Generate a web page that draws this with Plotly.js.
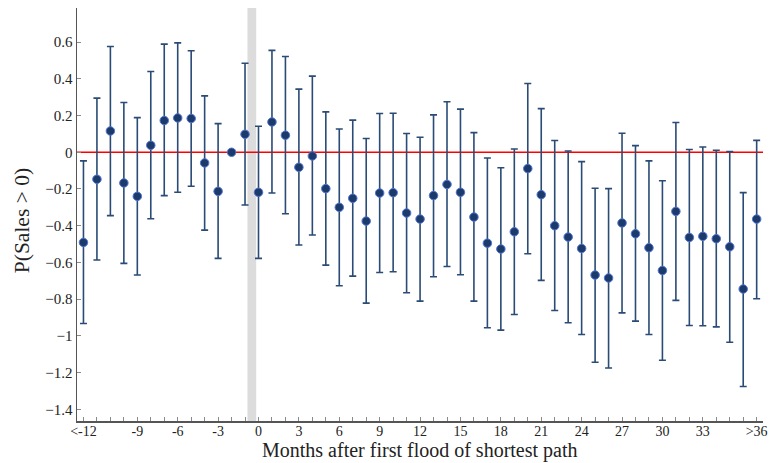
<!DOCTYPE html>
<html>
<head>
<meta charset="utf-8">
<script src="https://cdn.plot.ly/plotly-3.0.1.min.js"></script>
<style>
  html, body { margin: 0; padding: 0; background: #ffffff; }
  #chart { width: 771px; height: 463px; }
</style>
</head>
<body>
<div id="chart"></div>
<script>
// Event-time bins: "<-12" is pooled at -13, ">36" is pooled at 37
const months = [-13, -12, -11, -10, -9, -8, -7, -6, -5, -4, -3, -2, -1,
  0, 1, 2, 3, 4, 5, 6, 7, 8, 9, 10, 11, 12, 13, 14, 15, 16, 17, 18, 19,
  20, 21, 22, 23, 24, 25, 26, 27, 28, 29, 30, 31, 32, 33, 34, 35, 36, 37];

// Point estimates
const estimate = [-0.491, -0.147, 0.116, -0.167, -0.240, 0.038, 0.173, 0.187, 0.184, -0.058, -0.213, 0.000, 0.098,
  -0.218, 0.165, 0.093, -0.082, -0.020, -0.198, -0.300, -0.251, -0.375, -0.222, -0.220, -0.331, -0.364, -0.236, -0.175, -0.218, -0.353, -0.495, -0.527, -0.433,
  -0.089, -0.231, -0.400, -0.462, -0.524, -0.669, -0.685, -0.385, -0.444, -0.520, -0.644, -0.322, -0.464, -0.458, -0.471, -0.515, -0.745, -0.364];

// Upper bounds of the confidence intervals
const upper = [-0.047, 0.295, 0.576, 0.271, 0.189, 0.440, 0.589, 0.596, 0.553, 0.307, 0.156, 0.000, 0.485,
  0.142, 0.555, 0.522, 0.344, 0.415, 0.220, 0.127, 0.175, 0.075, 0.211, 0.213, 0.102, 0.082, 0.204, 0.275, 0.235, 0.107, -0.031, -0.084, 0.018,
  0.375, 0.238, 0.064, 0.007, -0.051, -0.196, -0.198, 0.104, 0.036, -0.047, -0.155, 0.162, 0.015, 0.029, 0.011, 0.004, -0.220, 0.065];

// Lower bounds of the confidence intervals
const lower = [-0.933, -0.587, -0.345, -0.605, -0.669, -0.362, -0.236, -0.218, -0.185, -0.424, -0.578, 0.000, -0.287,
  -0.578, -0.222, -0.335, -0.505, -0.451, -0.615, -0.727, -0.675, -0.822, -0.655, -0.651, -0.765, -0.811, -0.678, -0.622, -0.667, -0.811, -0.956, -0.969, -0.884,
  -0.553, -0.698, -0.862, -0.929, -0.993, -1.144, -1.175, -0.875, -0.920, -0.993, -1.133, -0.807, -0.944, -0.945, -0.951, -1.035, -1.276, -0.798];

// Labelled month ticks (every third month plus the pooled end bins)
const xTickVals = [-13, -9, -6, -3, 0, 3, 6, 9, 12, 15, 18, 21, 24, 27, 30, 33, 37];
const xTickText = ["&lt;-12", "-9", "-6", "-3", "0", "3", "6", "9", "12", "15", "18", "21", "24", "27", "30", "33", "&gt;36"];

const yTickVals = [0.6, 0.4, 0.2, 0, -0.2, -0.4, -0.6, -0.8, -1, -1.2, -1.4];
const yTickText = ["0.6", "0.4", "0.2", "0", "\u22120.2", "\u22120.4", "\u22120.6", "\u22120.8", "\u22121", "\u22121.2", "\u22121.4"];

const errPlus = upper.map((u, i) => u - estimate[i]);
const errMinus = estimate.map((e, i) => e - lower[i]);

const serif = "'Liberation Serif', 'DejaVu Serif', serif";

const trace = {
  type: "scatter",
  mode: "markers",
  x: months,
  y: estimate,
  marker: {
    size: 8.5,
    color: "#1c3b6a",
    line: { color: "#4f74d4", width: 1 }
  },
  error_y: {
    type: "data",
    symmetric: false,
    array: errPlus,
    arrayminus: errMinus,
    color: "#2a4b75",
    thickness: 1.6,
    width: 3.5
  },
  hoverinfo: "x+y",
  showlegend: false
};

const layout = {
  width: 771,
  height: 463,
  margin: { l: 77, r: 8, t: 8, b: 42 },
  paper_bgcolor: "#ffffff",
  plot_bgcolor: "#ffffff",
  font: { family: serif, color: "#222222", size: 14 },
  showlegend: false,
  xaxis: {
    range: [-13.48, 37.47],
    tickmode: "array",
    tickvals: xTickVals,
    ticktext: xTickText,
    ticks: "inside",
    ticklen: 4,
    tickwidth: 1,
    tickcolor: "#8a8a8a",
    ticklabelstandoff: -3,
    tickfont: { family: serif, size: 14, color: "#222222" },
    minor: {
      tickmode: "linear",
      tick0: 0,
      dtick: 1,
      ticks: "inside",
      ticklen: 4,
      tickwidth: 1,
      tickcolor: "#8a8a8a",
      showgrid: false
    },
    showgrid: false,
    zeroline: false,
    showline: true,
    linecolor: "#555555",
    linewidth: 1.5
  },
  yaxis: {
    range: [-1.464, 0.786],
    tickmode: "array",
    tickvals: yTickVals,
    ticktext: yTickText,
    ticks: "inside",
    ticklen: 4,
    tickwidth: 1,
    tickcolor: "#8a8a8a",
    tickfont: { family: serif, size: 15, color: "#222222" },
    showgrid: false,
    zeroline: false,
    showline: true,
    linecolor: "#555555",
    linewidth: 1.5
  },
  annotations: [
    {
      text: "Months after first flood of shortest path",
      xref: "paper", yref: "paper",
      x: 0.5, y: -0.1025,
      xanchor: "center", yanchor: "bottom",
      showarrow: false,
      borderpad: 0,
      font: { family: serif, size: 20, color: "#222222" }
    },
    {
      text: "P(Sales &gt; 0)",
      xref: "paper", yref: "paper",
      x: -0.080, y: 0.484,
      xanchor: "center", yanchor: "middle",
      textangle: -90,
      showarrow: false,
      font: { family: serif, size: 21.5, color: "#222222" }
    }
  ],
  shapes: [
    // shaded band just before month 0
    {
      type: "rect", layer: "below",
      xref: "x", yref: "paper",
      x0: -0.82, x1: -0.17, y0: 0, y1: 1,
      fillcolor: "#dcdcdc", line: { width: 0 }
    },
    // zero reference line
    {
      type: "line", layer: "below",
      xref: "paper", yref: "y",
      x0: 0, x1: 1, y0: 0, y1: 0,
      line: { color: "#ff0000", width: 1.5 }
    }
  ]
};

Plotly.newPlot("chart", [trace], layout, { displayModeBar: false, staticPlot: true });
</script>
</body>
</html>
